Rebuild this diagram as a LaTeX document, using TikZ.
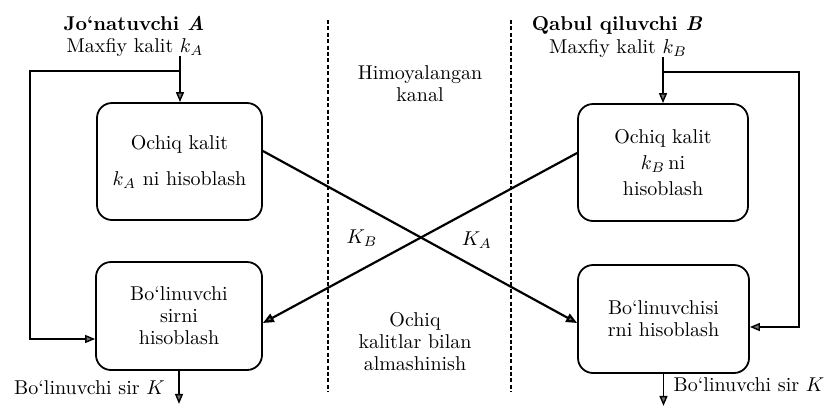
\documentclass[tikz,border=0pt]{standalone}
\usepackage{fontspec}
\usetikzlibrary{arrows.meta}
\begin{document}
\begin{tikzpicture}[x=0.5pt,y=-0.5pt,
  every node/.style={font=\fontsize{10}{11}\selectfont, inner sep=0pt},
  stage/.style={draw, line width=0.9pt, rounded corners=7.5pt, align=center},
  link/.style={line width=0.7pt, -{Triangle[length=5pt,width=4pt,fill=black!55]}},
  keyflow/.style={line width=1.1pt, -{Triangle[length=5.5pt,width=4.5pt,fill=black!55]}},
  border/.style={line width=1pt, dash pattern=on 2pt off 1.2pt},
  lbl/.style={align=center}]
\useasboundingbox (0,0) rectangle (835,408);

% processing stages of both parties
\node[stage, minimum width=82.5pt, minimum height=58.5pt] (pubA) at (179.5,161.5)
  {Ochiq kalit\\[7pt] $k_A$ ni hisoblash};
\node[stage, minimum width=85pt, minimum height=58.5pt] (pubB) at (663,162.5)
  {Ochiq kalit\\[2pt] $k_B$\,ni\\[2pt] hisoblash};
\node[stage, minimum width=83pt, minimum height=54pt] (secA) at (179,316)
  {Bo‘linuvchi\\ sirni\\ hisoblash};
\node[stage, minimum width=85.5pt, minimum height=54pt] (secB) at (663.5,319)
  {Bo‘linuvchisi\\ rni hisoblash};

% party headings and private keys
\node (nameA) at (134,23) {\bfseries Jo‘natuvchi \textit{A}};
\node (privA) at (135,47) {Maxfiy kalit $k_A$};
\node (nameB) at (617,25) {\bfseries Qabul qiluvchi \textit{B}};
\node (privB) at (618,48) {Maxfiy kalit $k_B$};

% channel captions
\node[lbl] (chan) at (420,84) {Himoyalangan\\kanal};
\node[lbl] (pub) at (415,342) {Ochiq\\kalitlar bilan\\almashinish};
\node (KB) at (362,238) {$K_B$};
\node (KA) at (477,240) {$K_A$};

% results
\node (outA) at (89.5,388) {Bo‘linuvchi sir $K$};
\node (outB) at (749,385) {Bo‘linuvchi sir $K$};

% channel boundaries
\draw[border] (328,20) -- (328,392);
\draw[border] (511,20) -- (511,392);

% private key feeds
\coordinate (srcA) at (180,56);
\coordinate (tapA) at (180,71);
\draw[link] (srcA) -- (srcA |- pubA.north);
\draw[link] (tapA) -- (30,71) -- (30,339) -- (secA.west |- 0,339);
\draw[link] (secA.south) -- ++(0,33);

\coordinate (srcB) at (663,57);
\coordinate (tapB) at (663,72);
\draw[link] (srcB) -- (srcB |- pubB.north);
\draw[link] (tapB) -- (799,72) -- (799,327) -- (secB.east |- 0,327);
\draw[link] (secB.south) -- ++(0,32);

% public key exchange
\draw[keyflow] (pubA.east |- 0,151) -- (secB.west |- 0,323);
\draw[keyflow] (pubB.west |- 0,153) -- (secA.east |- 0,323);
\end{tikzpicture}
\end{document}
